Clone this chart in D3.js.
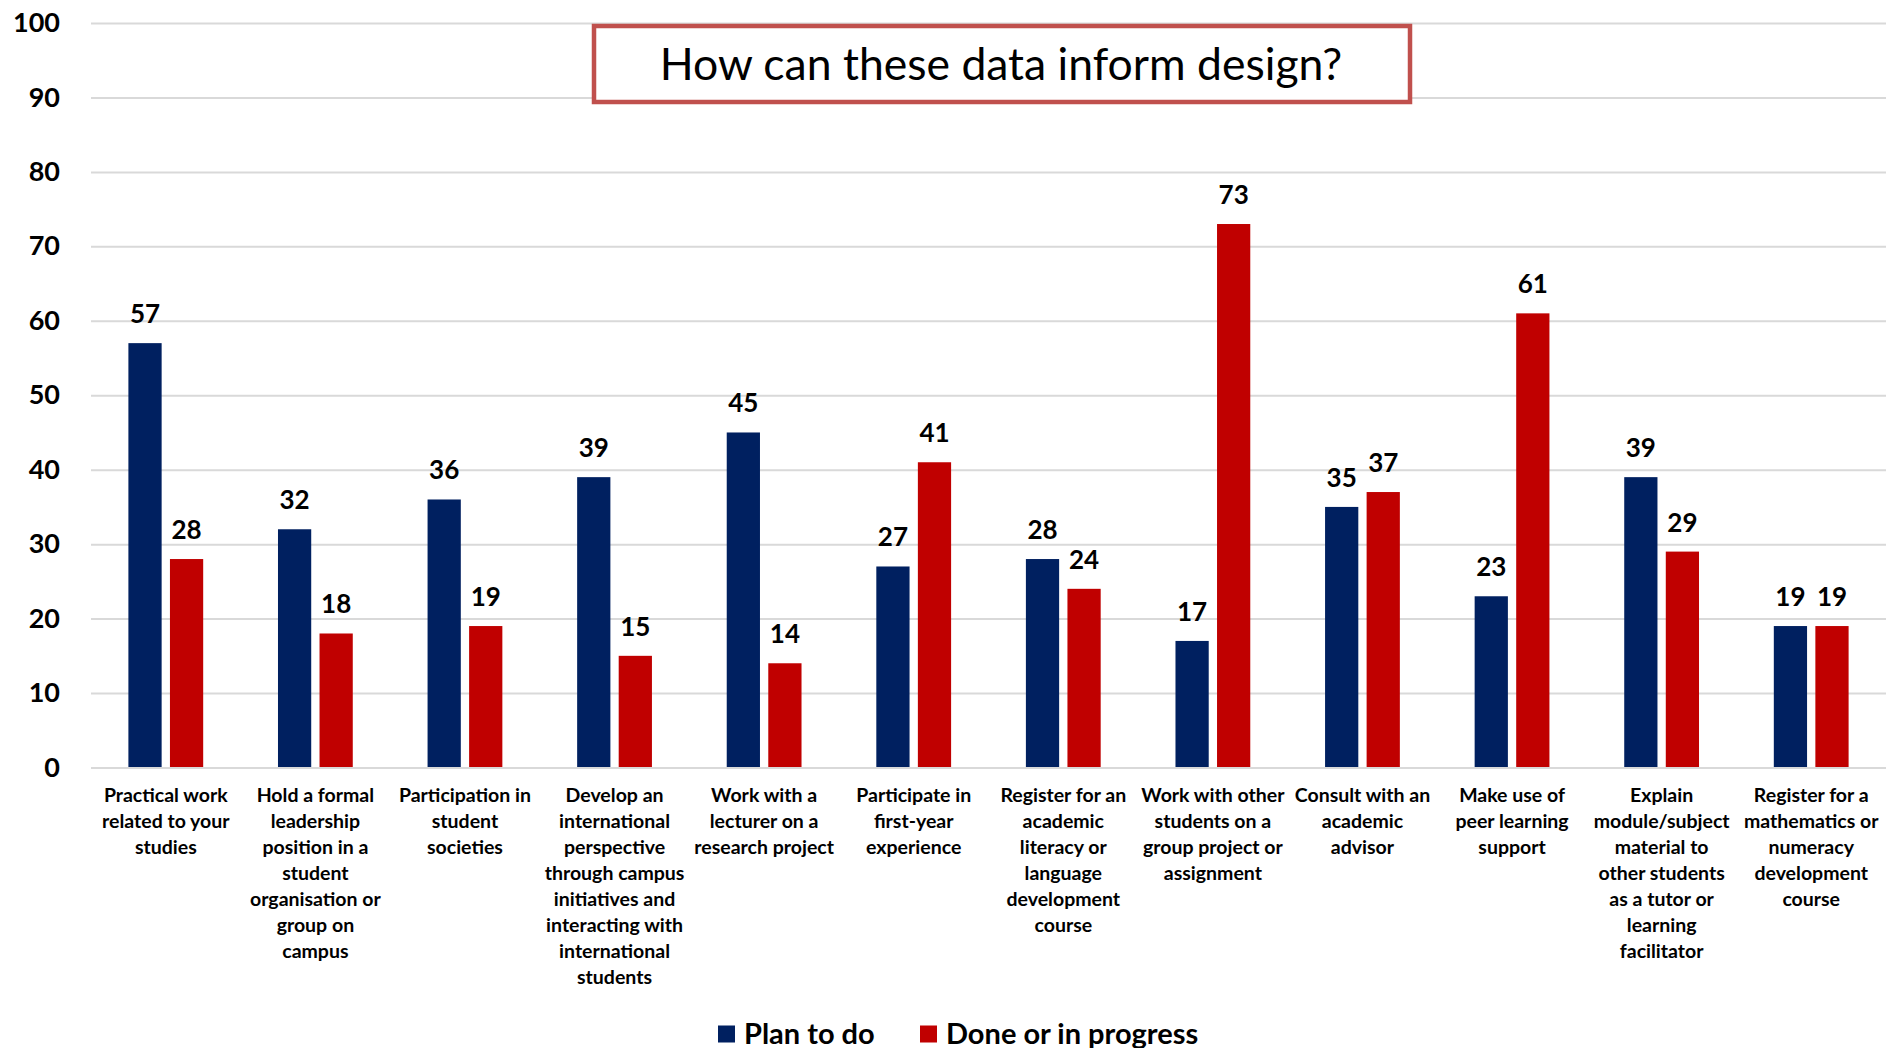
<!DOCTYPE html>
<html>
<head>
<meta charset="utf-8">
<script src="https://cdn.jsdelivr.net/npm/d3@7"></script>
<style>
  html, body { margin: 0; padding: 0; background: #fff; }
  svg { display: block; }
  text { font-family: Lato, "Open Sans", sans-serif; fill: #000; }
</style>
</head>
<body>
<svg id="chart" width="1886" height="1048"></svg>
<script>
// Activity categories ("|" marks a line break in the axis label)
const categories = [
  "Practical work|related to your|studies",
  "Hold a formal|leadership|position in a|student|organisation or|group on|campus",
  "Participation in|student|societies",
  "Develop an|international|perspective|through campus|initiatives and|interacting with|international|students",
  "Work with a|lecturer on a|research project",
  "Participate in|first-year|experience",
  "Register for an|academic|literacy or|language|development|course",
  "Work with other|students on a|group project or|assignment",
  "Consult with an|academic|advisor",
  "Make use of|peer learning|support",
  "Explain|module/subject|material to|other students|as a tutor or|learning|facilitator",
  "Register for a|mathematics or|numeracy|development|course"
];

// Percentages per series
const planToDo = [57, 32, 36, 39, 45, 27, 28, 17, 35, 23, 39, 19];
const doneOrInProgress = [28, 18, 19, 15, 14, 41, 24, 73, 37, 61, 29, 19];

const seriesNames = ["Plan to do", "Done or in progress"];
const seriesColors = ["#002060", "#C00000"];
const yTicks = [0, 10, 20, 30, 40, 50, 60, 70, 80, 90, 100];
const titleText = "How can these data inform design?";

const svg = d3.select("#chart");
const margin = { left: 91, right: 0, top: 23 };
const W = 1886, H = 1048;
const plotW = W - margin.left - margin.right;
const plotBottom = 767.5;

const x0 = d3.scaleBand().domain(d3.range(categories.length))
  .range([margin.left, W - margin.right]).paddingInner(0).paddingOuter(0);
const x1 = d3.scaleBand().domain(seriesNames)
  .range([x0.bandwidth() * 0.25, x0.bandwidth() * 0.75]).paddingInner(0.2).paddingOuter(0);
const y = d3.scaleLinear().domain([0, 100]).range([plotBottom, margin.top]);

// Gridlines and y tick labels
const yAxis = svg.append("g")
  .attr("transform", `translate(${margin.left},0)`)
  .call(d3.axisLeft(y).tickValues(yTicks).tickSize(-plotW).tickPadding(31));
yAxis.select(".domain").remove();
yAxis.selectAll(".tick line").attr("stroke", "#D9D9D9").attr("stroke-width", 2);
yAxis.selectAll(".tick text")
  .style("font-family", "Lato, sans-serif")
  .style("font-size", "27px").style("font-weight", "700").attr("fill", "#000");

// Bars
const rows = categories.map((c, i) => ({ i, values: [planToDo[i], doneOrInProgress[i]] }));
const groups = svg.append("g").selectAll("g").data(rows).join("g")
  .attr("transform", d => `translate(${x0(d.i)},0)`);

groups.selectAll("rect")
  .data(d => d.values.map((v, k) => ({ key: seriesNames[k], v, k })))
  .join("rect")
  .attr("x", d => x1(d.key))
  .attr("width", x1.bandwidth())
  .attr("y", d => y(d.v))
  .attr("height", d => y(0) - y(d.v))
  .attr("fill", d => seriesColors[d.k]);

// Value labels above bars
groups.selectAll("text.val")
  .data(d => d.values.map((v, k) => ({ key: seriesNames[k], v, k })))
  .join("text")
  .attr("class", "val")
  .attr("x", d => x1(d.key) + x1.bandwidth() / 2)
  .attr("y", d => y(d.v) - 20)
  .attr("text-anchor", "middle")
  .style("font-size", "26px").style("font-weight", "700")
  .text(d => d.v);

// Category axis with wrapped labels
const xAxis = svg.append("g")
  .attr("transform", `translate(0,${plotBottom})`)
  .call(d3.axisBottom(x0).tickSize(0).tickFormat(i => categories[i]));
xAxis.select(".domain").attr("stroke", "#D9D9D9").attr("stroke-width", 2);
xAxis.selectAll(".tick text").each(function(i) {
  const t = d3.select(this);
  const lines = categories[i].split("|");
  t.text(null).attr("y", 0).attr("dy", null)
    .style("font-family", "Lato, sans-serif")
    .style("font-size", "19.5px").style("font-weight", "700").attr("fill", "#000");
  lines.forEach((ln, j) => {
    t.append("tspan").attr("x", 0).attr("y", 34 + j * 26).text(ln);
  });
});

// Title box
const titleG = svg.append("g");
titleG.append("rect")
  .attr("x", 594).attr("y", 26).attr("width", 816).attr("height", 76)
  .attr("fill", "#fff").attr("stroke", "#C0504D").attr("stroke-width", 4.5);
titleG.append("text")
  .attr("x", 1001).attr("y", 80)
  .attr("text-anchor", "middle")
  .style("font-size", "44.5px").style("font-weight", "400")
  .text(titleText);

// Legend
const legendX = [718, 920];
const legend = svg.append("g").selectAll("g").data(seriesNames).join("g")
  .attr("transform", (d, k) => `translate(${legendX[k]},1034)`);
legend.append("rect").attr("x", 0).attr("y", -8.5).attr("width", 17).attr("height", 17)
  .attr("fill", (d, k) => seriesColors[k]);
legend.append("text").attr("x", 26).attr("y", 10)
  .style("font-size", "29px").style("font-weight", "700")
  .text(d => d);
</script>
</body>
</html>
